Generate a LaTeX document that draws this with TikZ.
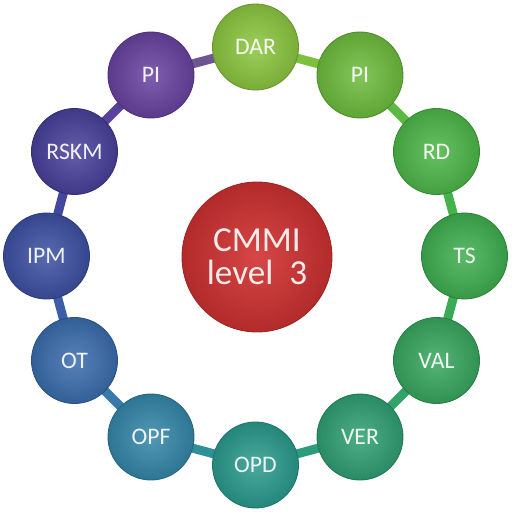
\documentclass[tikz,border=0pt]{standalone}
\usepackage{fontspec}
\setmainfont{Carlito}
\usetikzlibrary{calc}
\pgfdeclarelayer{edgelayer}
\pgfsetlayers{edgelayer,main}
\definecolor{cdar}{HTML}{8BC53F}
\definecolor{cpir}{HTML}{6DBB3D}
\definecolor{crd}{HTML}{4CB648}
\definecolor{cts}{HTML}{3EAE4E}
\definecolor{cval}{HTML}{37A65E}
\definecolor{cver}{HTML}{2F9F72}
\definecolor{copd}{HTML}{2A9A8C}
\definecolor{copf}{HTML}{3386A8}
\definecolor{cot}{HTML}{3A6CAC}
\definecolor{cipm}{HTML}{3D50A2}
\definecolor{crskm}{HTML}{48409A}
\definecolor{cpil}{HTML}{6842A0}
\definecolor{ccmmi}{HTML}{D23232}

\begin{document}
\begin{tikzpicture}
  [x=0.02cm,y=0.02cm,
   area/.style={circle,draw=#1!75!black,line width=0.5pt,shading=radial,
     inner color=#1!85!white,outer color=#1!88!black,minimum size=1.72cm,
     inner sep=0pt,font=\fontsize{13.5}{13.5}\selectfont,text=white!92!#1},
   core/.style={circle,draw=ccmmi!75!black,line width=0.5pt,shading=radial,
     inner color=ccmmi!90!white,outer color=ccmmi!85!black,minimum size=3cm,
     inner sep=0pt,align=center,font=\fontsize{20}{19}\selectfont,text=white!90!ccmmi},
   link/.style={line width=0.18cm,draw=#1}
  ]
  \useasboundingbox (0,0) rectangle (511,514);
  \coordinate (hub) at (255.5,258);

  % process areas round the ring
  \foreach \n/\a/\t/\c in {dar/90/DAR/cdar,pir/60/PI/cpir,rd/30/RD/crd,
      ts/0/TS/cts,val/-30/VAL/cval,ver/-60/VER/cver,opd/-90/OPD/copd,
      opf/-120/OPF/copf,ot/-150/OT/cot,ipm/180/IPM/cipm,rskm/150/RSKM/crskm,
      pil/120/PI/cpil}
    \node[area=\c] (\n) at ($(hub)+(\a:209)$) {\t};

  % centre
  \node[core] (cmmi) at (257,257) {CMMI\\level\ \ 3};

  % links between neighbours
  \begin{pgfonlayer}{edgelayer}
    \foreach \p/\q/\c in {dar/pir/cdar!50!cpir,pir/rd/cpir!50!crd,rd/ts/crd!50!cts,
        ts/val/cts!50!cval,val/ver/cval!50!cver,ver/opd/cver!50!copd,
        opd/opf/copd!50!copf,opf/ot/copf!50!cot,ot/ipm/cot!50!cipm,
        ipm/rskm/cipm!50!crskm,rskm/pil/crskm!50!cpil,pil/dar/cpil!85!cdar}
      \draw[link=\c] (\p.center) -- (\q.center);
  \end{pgfonlayer}
\end{tikzpicture}
\end{document}
